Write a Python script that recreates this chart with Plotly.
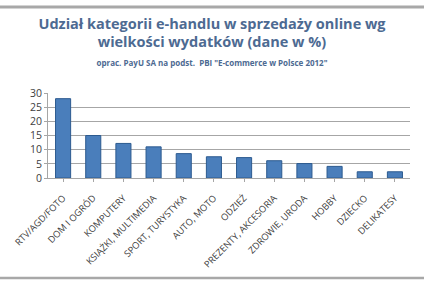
import plotly.graph_objects as go

categories = ["RTV/AGD/FOTO", "DOM I OGRÓD", "KOMPUTERY", "KSIĄŻKI, MULTIMEDIA",
              "SPORT, TURYSTYKA", "AUTO, MOTO", "ODZIEŻ", "PREZENTY, AKCESORIA",
              "ZDROWIE, URODA", "HOBBY", "DZIECKO", "DELIKATESY"]
values = [28, 15, 12.2, 11, 8.6, 7.5, 7.2, 6.1, 5.1, 4.1, 2.2, 2.2]
y_ticks = [0, 5, 10, 15, 20, 25, 30]

fig = go.Figure()
fig.add_trace(go.Bar(
    x=categories, y=values,
    marker=dict(color="#4a7ebb", line=dict(color="#2c5a8f", width=1)),
    width=0.5,
))

fig.update_layout(
    width=424, height=285,
    margin=dict(l=45, r=14, t=93, b=107),
    paper_bgcolor="white", plot_bgcolor="white",
    showlegend=False,
    font=dict(family="Open Sans, sans-serif", color="#404040"),
    title=dict(
        text="<b>Udział kategorii e-handlu w sprzedaży online wg<br>wielkości wydatków (dane w %)</b>"
             "<br><span style='font-size:8px'><b>oprac. PayU SA na podst.  PBI \"E-commerce w Polsce 2012\"</b></span>",
        x=0.5, xanchor="center", y=0.90, yanchor="top",
        font=dict(size=14.5, color="#4d6a92", family="Open Sans, sans-serif"),
    ),
    xaxis=dict(tickangle=-45, tickfont=dict(size=9.3, color="#404040"),
               showline=True, linecolor="#a6a6a6", ticks="outside", ticklen=3, tickcolor="#a6a6a6",
               ticklabelstandoff=7),
    yaxis=dict(range=[0, 30], tickvals=y_ticks, tickfont=dict(size=10.5, color="#404040"),
               showgrid=True, gridcolor="#a6a6a6", gridwidth=1,
               showline=True, linecolor="#a6a6a6", ticks="outside", ticklen=3, tickcolor="#a6a6a6"),
    shapes=[
        dict(type="line", xref="paper", yref="paper", x0=-0.2, x1=1.1, y0=1.0 + 86/85, y1=1.0 + 86/85,
             line=dict(color="#a8a8a8", width=3)),
        dict(type="line", xref="paper", yref="paper", x0=-0.2, x1=1.1, y0=-100/85, y1=-100/85,
             line=dict(color="#a8a8a8", width=2.5)),
    ],
)

fig.write_html("out.html")
